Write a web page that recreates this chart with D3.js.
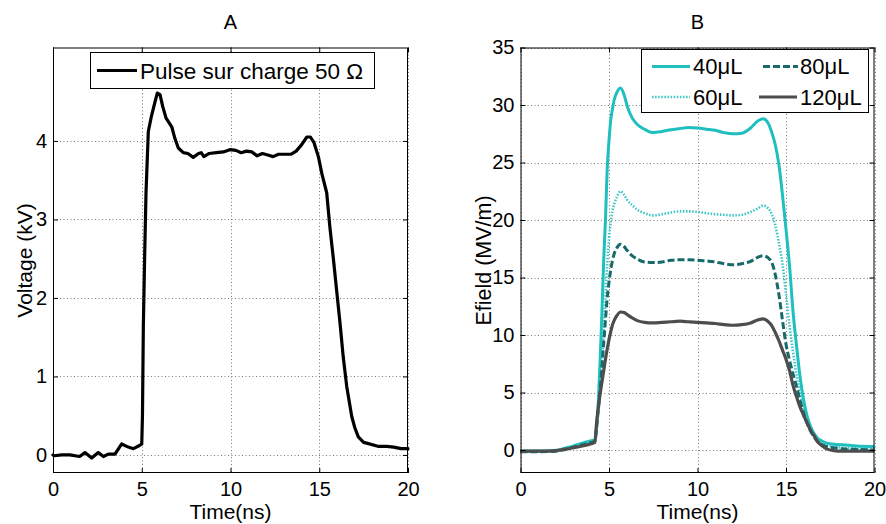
<!DOCTYPE html>
<html>
<head>
<meta charset="utf-8">
<script src="https://cdn.jsdelivr.net/npm/d3@7"></script>
<style>
  html, body { margin: 0; padding: 0; background: #fff; }
  svg { display: block; }
  text { font-family: "Liberation Sans", Arial, sans-serif; fill: #000; }
</style>
</head>
<body>
<div id="chart"></div>
<script>
// ---------------- Data ----------------
// Panel A: pulse on 50 ohm load
const timeA = [0, 0.06, 0.5, 0.95, 1.5, 1.8, 2.18, 2.55, 2.84, 3.12, 3.49, 3.87, 4.24, 4.53, 4.87, 5.0,
  5.04, 5.09, 5.17, 5.24, 5.37, 5.55, 5.75, 5.88, 6.03, 6.18, 6.37, 6.69, 6.87, 7.06, 7.34,
  7.6, 7.9, 8.2, 8.35, 8.5, 8.8, 9.2, 9.6, 10.0, 10.3, 10.6, 10.9, 11.2, 11.5, 11.8, 12.1, 12.4,
  12.7, 13.0, 13.4, 13.7, 14.0, 14.3, 14.5, 14.7, 14.95, 15.15, 15.42, 15.6, 15.8, 16.0, 16.17,
  16.35, 16.55, 16.83, 17.0, 17.2, 17.5, 17.67, 18.3, 18.8, 19.2, 19.6, 20.0];
const voltageA = [0.0, -0.01, 0.0, 0.0, -0.02, 0.03, -0.04, 0.03, -0.02, 0.01, 0.01, 0.14, 0.1, 0.08, 0.12, 0.14,
  0.5, 1.65, 2.6, 3.34, 4.12, 4.32, 4.5, 4.61, 4.59, 4.44, 4.29, 4.18, 4.03, 3.91, 3.85,
  3.84, 3.79, 3.84, 3.85, 3.8, 3.84, 3.85, 3.86, 3.89, 3.88, 3.85, 3.87, 3.86, 3.81, 3.84, 3.82, 3.8,
  3.83, 3.83, 3.83, 3.87, 3.95, 4.05, 4.05, 3.98, 3.8, 3.58, 3.34, 2.9, 2.49, 2.05, 1.68,
  1.25, 0.87, 0.49, 0.35, 0.23, 0.16, 0.15, 0.11, 0.11, 0.1, 0.08, 0.08];

// Panel B: electric field for four volumes
const timeB = [0, 1, 2, 2.5, 3, 3.5, 4, 4.2, 4.3, 4.4, 4.5, 4.6, 4.7, 4.8, 4.9, 5.0, 5.1, 5.2, 5.3,
  5.45, 5.65, 5.85, 6.05, 6.3, 6.6, 7.0, 7.5, 8.0, 8.5, 9.0, 9.5, 10, 10.5, 11, 11.5, 12, 12.5,
  13, 13.4, 13.7, 14.0, 14.2, 14.4, 14.6, 14.8, 15.0, 15.2, 15.4, 15.6, 15.8, 16.0, 16.2, 16.4,
  16.6, 16.8, 17.0, 17.3, 17.7, 18.2, 19, 20];
const e40 = [-0.1, -0.1, -0.05, 0.15, 0.35, 0.6, 0.8, 0.9, 2.0, 4.3, 7.8, 11.9, 16.5, 20.0, 24.5, 26.9, 28.7, 29.7, 30.5,
  31.1, 31.47, 30.9, 29.8, 28.9, 28.3, 27.9, 27.6, 27.7, 27.85, 27.95, 28.05, 28.0, 27.9, 27.8, 27.6, 27.5, 27.55,
  28.0, 28.6, 28.8, 28.4, 27.6, 26.5, 24.8, 22.2, 19.2, 16.0, 12.0, 9.0, 6.3, 4.3, 2.9, 2.0,
  1.4, 1.0, 0.8, 0.6, 0.5, 0.45, 0.35, 0.3];
const e60 = [-0.05, -0.05, 0, 0.1, 0.3, 0.5, 0.7, 0.8, 2.2, 3.8, 5.6, 7.8, 10.5, 13.4, 16.2, 18.4, 19.8, 20.8, 21.4,
  22.0, 22.5, 22.2, 21.7, 21.3, 20.9, 20.6, 20.4, 20.5, 20.65, 20.75, 20.75, 20.7, 20.6, 20.5, 20.45, 20.4, 20.45,
  20.7, 21.0, 21.25, 21.0, 20.5, 19.5, 18.0, 16.2, 13.5, 10.8, 8.5, 6.5, 4.9, 3.5, 2.5, 1.7,
  1.2, 0.8, 0.6, 0.4, 0.3, 0.2, 0.15, 0.1];
const e80 = [-0.15, -0.15, -0.1, 0.05, 0.25, 0.45, 0.65, 0.75, 2.0, 3.6, 5.3, 7.2, 9.3, 11.3, 13.2, 14.6, 15.7, 16.5, 17.1,
  17.6, 17.9, 17.7, 17.3, 16.9, 16.6, 16.35, 16.3, 16.35, 16.5, 16.55, 16.55, 16.5, 16.45, 16.35, 16.2, 16.1, 16.2,
  16.4, 16.75, 16.9, 16.7, 16.3, 15.2, 13.5, 11.3, 9.2, 7.8, 6.6, 5.5, 4.3, 3.2, 2.3, 1.6,
  1.1, 0.7, 0.5, 0.3, 0.2, 0.1, 0.05, 0.0];
const e120 = [-0.1, -0.1, -0.05, 0.05, 0.2, 0.35, 0.55, 0.65, 2.4, 3.7, 4.9, 5.9, 6.9, 7.9, 8.8, 9.6, 10.3, 10.9, 11.3,
  11.7, 12.0, 11.95, 11.75, 11.5, 11.25, 11.1, 11.05, 11.1, 11.15, 11.2, 11.15, 11.1, 11.05, 11.0, 10.9, 10.85, 10.9,
  11.05, 11.3, 11.4, 11.15, 10.8, 10.2, 9.5, 8.7, 7.9, 6.9, 5.6, 4.6, 3.7, 3.0, 2.3, 1.7,
  1.2, 0.7, 0.4, 0.1, -0.05, -0.1, -0.1, -0.1];

const seriesNames = ["40\u03bcL", "60\u03bcL", "80\u03bcL", "120\u03bcL"];
const xTicks = [0, 5, 10, 15, 20];
const yTicksA = [0, 1, 2, 3, 4];
const yTicksB = [0, 5, 10, 15, 20, 25, 30, 35];

// ---------------- Styles ----------------
const seriesStyle = {
  "40\u03bcL":  { color: "#1fbfbf", width: 3,   dash: null },
  "60\u03bcL":  { color: "#3cc6c6", width: 2.6, dash: "1.5,1.6" },
  "80\u03bcL":  { color: "#176a6a", width: 3,   dash: "7,3" },
  "120\u03bcL": { color: "#4d4d4d", width: 3.2, dash: null }
};
const seriesData = [e40, e60, e80, e120];

const W = 886, H = 524;
const svg = d3.select("#chart").append("svg").attr("width", W).attr("height", H);
svg.append("rect").attr("width", W).attr("height", H).attr("fill", "#fff");

function panel(opts) {
  const { left, right, top, bottom, xDomain, yDomain, yTicks } = opts;
  const x = d3.scaleLinear().domain(xDomain).range([left, right]);
  const y = d3.scaleLinear().domain(yDomain).range([bottom, top]);
  const g = svg.append("g");
  const fmt = d3.format("d");

  // grid
  const grid = g.append("g").attr("stroke", "#7a7a7a").attr("stroke-width", 1)
    .attr("stroke-dasharray", "1,2.5");
  grid.selectAll("line.gx").data(xTicks).join("line")
    .attr("x1", d => Math.round(x(d)) + 0.5).attr("x2", d => Math.round(x(d)) + 0.5)
    .attr("y1", top).attr("y2", bottom);
  grid.selectAll("line.gy").data(yTicks).join("line")
    .attr("y1", d => Math.round(y(d)) + 0.5).attr("y2", d => Math.round(y(d)) + 0.5)
    .attr("x1", left).attr("x2", right);

  const lines = g.append("g");

  const axes = g.append("g");
  const fs = "20px";
  const ax = axes.append("g").attr("transform", `translate(0,${bottom})`)
    .call(d3.axisBottom(x).tickValues(xTicks).tickFormat(fmt).tickSize(-5).tickSizeOuter(0).tickPadding(9));
  const at = axes.append("g").attr("transform", `translate(0,${top})`)
    .call(d3.axisTop(x).tickValues(xTicks).tickSize(-5).tickSizeOuter(0).tickFormat(""));
  const ayl = axes.append("g").attr("transform", `translate(${left},0)`)
    .call(d3.axisLeft(y).tickValues(yTicks).tickFormat(fmt).tickSize(-5).tickSizeOuter(0).tickPadding(6));
  const ayr = axes.append("g").attr("transform", `translate(${right},0)`)
    .call(d3.axisRight(y).tickValues(yTicks).tickSize(-5).tickSizeOuter(0).tickFormat(""));
  [ax, at, ayl, ayr].forEach(a => {
    a.select(".domain").remove();
    a.selectAll(".tick line").attr("stroke", "#000");
    a.selectAll("text").attr("font-size", fs).attr("font-family", "Liberation Sans, Arial, sans-serif").attr("fill", "#000");
  });
  axes.append("rect").attr("x", left + 0.5).attr("y", top + 0.5)
    .attr("width", right - left - 1).attr("height", bottom - top - 1)
    .attr("fill", "none").attr("stroke", "#000").attr("stroke-width", 1);

  return { x, y, g, lines, axes };
}

// ---------------- Panel A ----------------
const pA = panel({ left: 53, right: 408, top: 47.5, bottom: 473,
  xDomain: [0, 20], yDomain: [-0.23, 5.19], yTicks: yTicksA });
const lineA = d3.line().x((d, i) => pA.x(timeA[i])).y(d => pA.y(d)).curve(d3.curveLinear);
pA.lines.append("path").datum(voltageA).attr("d", lineA)
  .attr("fill", "none").attr("stroke", "#000").attr("stroke-width", 3.2)
  .attr("stroke-linejoin", "round").attr("stroke-linecap", "round");

svg.append("text").attr("x", 230.5).attr("y", 29).attr("text-anchor", "middle")
  .attr("font-size", "20px").text("A");
svg.append("text").attr("x", 230.5).attr("y", 519).attr("text-anchor", "middle")
  .attr("font-size", "21px").text("Time(ns)");
svg.append("text").attr("transform", "translate(32,260.5) rotate(-90)").attr("text-anchor", "middle")
  .attr("font-size", "21px").text("Voltage (kV)");

// legend A
const legA = svg.append("g");
legA.append("rect").attr("x", 90.5).attr("y", 52.5).attr("width", 284).attr("height", 36)
  .attr("fill", "#fff").attr("stroke", "#000").attr("stroke-width", 1);
legA.append("line").attr("x1", 97).attr("x2", 137).attr("y1", 70.5).attr("y2", 70.5)
  .attr("stroke", "#000").attr("stroke-width", 3.2);
legA.append("text").attr("x", 140).attr("y", 78.5).attr("font-size", "22.5px")
  .text("Pulse sur charge 50 \u03a9");

// ---------------- Panel B ----------------
const pB = panel({ left: 520.5, right: 874.5, top: 47.5, bottom: 473,
  xDomain: [0, 20], yDomain: [-2, 35], yTicks: yTicksB });
const lineB = d3.line().x((d, i) => pB.x(timeB[i])).y(d => pB.y(d)).curve(d3.curveMonotoneX);
// draw order: 40, 60, 80, 120 (120 on top)
seriesNames.forEach((name, k) => {
  const s = seriesStyle[name];
  pB.lines.append("path").datum(seriesData[k]).attr("d", lineB)
    .attr("fill", "none").attr("stroke", s.color).attr("stroke-width", s.width)
    .attr("stroke-dasharray", s.dash).attr("stroke-linejoin", "round");
});

svg.append("text").attr("x", 697.5).attr("y", 29).attr("text-anchor", "middle")
  .attr("font-size", "20px").text("B");
svg.append("text").attr("x", 697.5).attr("y", 519).attr("text-anchor", "middle")
  .attr("font-size", "21px").text("Time(ns)");
svg.append("text").attr("transform", "translate(491,260.5) rotate(-90)").attr("text-anchor", "middle")
  .attr("font-size", "21.5px").text("Efield (MV/m)");

// legend B
const legB = svg.append("g");
legB.append("rect").attr("x", 641.5).attr("y", 49.5).attr("width", 227).attr("height", 63)
  .attr("fill", "#fff").attr("stroke", "#000").attr("stroke-width", 1);
const legPos = [
  { x1: 652, x2: 690, tx: 693, y: 66.5 },
  { x1: 652, x2: 690, tx: 693, y: 97 },
  { x1: 763, x2: 798, tx: 800, y: 66.5 },
  { x1: 759, x2: 797, tx: 800, y: 97 }
];
seriesNames.forEach((name, k) => {
  const s = seriesStyle[name], p = legPos[k];
  legB.append("line").attr("x1", p.x1).attr("x2", p.x2).attr("y1", p.y).attr("y2", p.y)
    .attr("stroke", s.color).attr("stroke-width", s.width).attr("stroke-dasharray", s.dash);
  legB.append("text").attr("x", p.tx).attr("y", p.y + 7.5).attr("font-size", "22px").text(name);
});
</script>
</body>
</html>
